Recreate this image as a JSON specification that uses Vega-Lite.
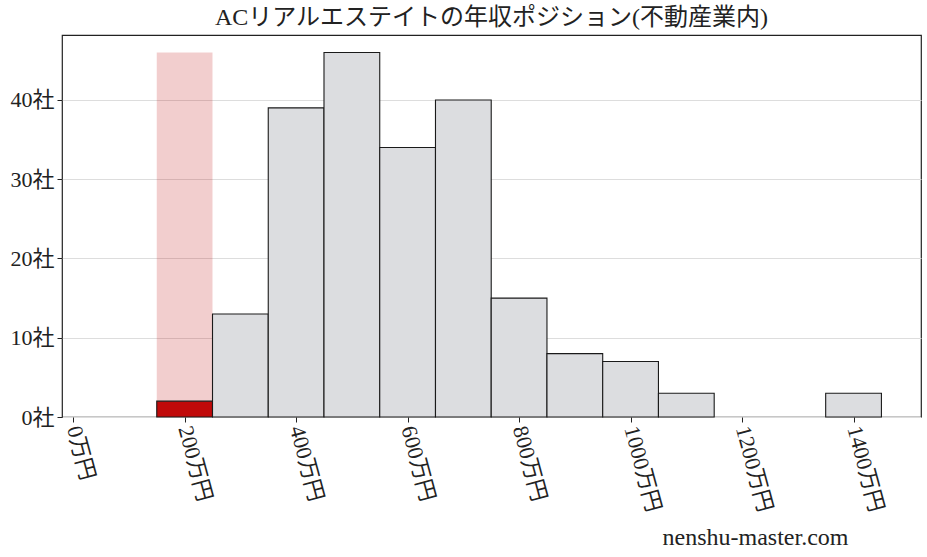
{
  "$schema": "https://vega.github.io/schema/vega-lite/v6.json",
  "autosize": {"type": "none"},
  "width": 859,
  "height": 382,
  "padding": {"left": 62, "top": 35, "right": 6, "bottom": 140},
  "background": "white",
  "title": {
    "text": "ACリアルエステイトの年収ポジション(不動産業内)",
    "font": "Liberation Serif, Noto Sans CJK JP",
    "fontSize": 24,
    "fontWeight": "normal",
    "color": "#222222",
    "anchor": "middle",
    "offset": 5
  },
  "config": {
    "view": {"stroke": "#222222", "strokeWidth": 1.2},
    "axis": {
      "labelFont": "Liberation Serif, Noto Sans CJK JP",
      "labelFontSize": 22,
      "labelColor": "#222222",
      "tickColor": "#222222",
      "tickSize": 5,
      "domain": false
    }
  },
  "datasets": {
    "bins": [
      {"start": 150, "end": 250, "count": 2, "group": "self"},
      {"start": 250, "end": 350, "count": 13, "group": "other"},
      {"start": 350, "end": 450, "count": 39, "group": "other"},
      {"start": 450, "end": 550, "count": 46, "group": "other"},
      {"start": 550, "end": 650, "count": 34, "group": "other"},
      {"start": 650, "end": 750, "count": 40, "group": "other"},
      {"start": 750, "end": 850, "count": 15, "group": "other"},
      {"start": 850, "end": 950, "count": 8, "group": "other"},
      {"start": 950, "end": 1050, "count": 7, "group": "other"},
      {"start": 1050, "end": 1150, "count": 3, "group": "other"},
      {"start": 1350, "end": 1450, "count": 3, "group": "other"}
    ],
    "highlight": [
      {"start": 150, "end": 250, "count": 46}
    ]
  },
  "layer": [
    {
      "data": {"name": "highlight"},
      "mark": {"type": "rect", "color": "#c00a0a", "opacity": 0.2},
      "encoding": {
        "x": {
          "field": "start",
          "type": "quantitative",
          "scale": {"domain": [-20, 1521], "nice": false, "zero": false},
          "axis": {
            "values": [0, 200, 400, 600, 800, 1000, 1200, 1400],
            "labelExpr": "datum.value + '万円'",
            "labelAngle": 75,
            "labelAlign": "left",
            "labelBaseline": "middle",
            "labelPadding": 4,
            "grid": false,
            "title": "nenshu-master.com",
            "titleFont": "Liberation Serif",
            "titleFontSize": 24,
            "titleFontWeight": "normal",
            "titleColor": "#222222",
            "titleAlign": "right",
            "titleBaseline": "alphabetic",
            "titleAnchor": "start",
            "titleX": 786,
            "titleY": 127
          }
        },
        "x2": {"field": "end"},
        "y": {
          "field": "count",
          "type": "quantitative",
          "scale": {"domain": [0, 48.2], "nice": false},
          "axis": {
            "values": [0, 10, 20, 30, 40],
            "labelExpr": "datum.value + '社'",
            "grid": true,
            "gridColor": "#dddddd",
            "gridWidth": 1,
            "title": null,
            "labelPadding": 3
          }
        },
        "y2": {"datum": 0}
      }
    },
    {
      "data": {"name": "bins"},
      "mark": {"type": "rect", "stroke": "#1a1a1a", "strokeWidth": 1.1},
      "encoding": {
        "x": {"field": "start", "type": "quantitative"},
        "x2": {"field": "end"},
        "y": {"field": "count", "type": "quantitative"},
        "y2": {"datum": 0},
        "fill": {
          "field": "group",
          "type": "nominal",
          "scale": {"domain": ["self", "other"], "range": ["#c00a0a", "#dcdde0"]},
          "legend": null
        }
      }
    }
  ]
}
